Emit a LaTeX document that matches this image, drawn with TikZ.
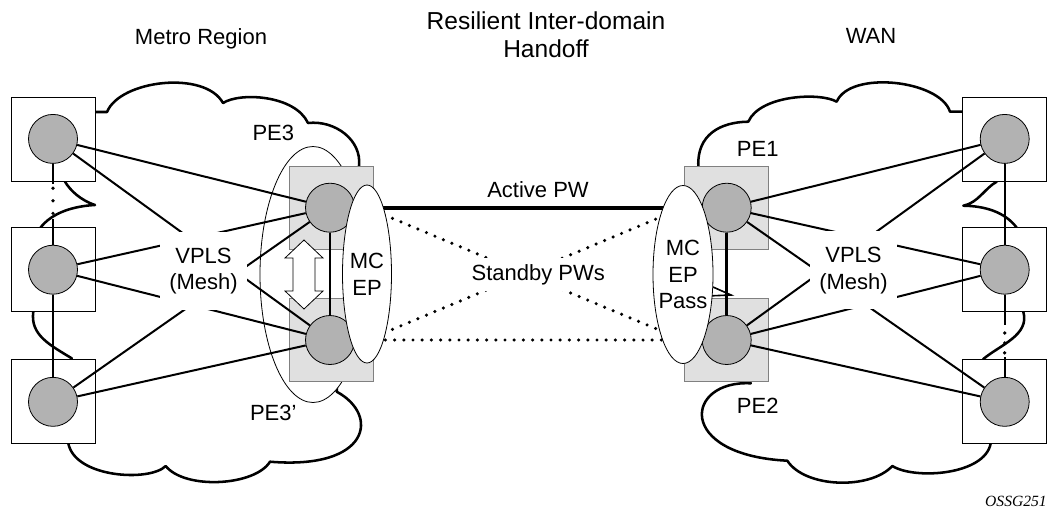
\documentclass[tikz,border=0pt]{standalone}
\usepackage{fontspec}
\setmainfont{Liberation Sans}
\newfontfamily\tagfont{Liberation Serif}
\usetikzlibrary{positioning, shapes.geometric}
\newcommand{\lblfont}{\fontsize{16.5pt}{20pt}\selectfont}
\tikzset{
	site/.style={draw, line width=0.6pt, fill=white, minimum size=63pt, inner sep=0pt},
	host/.style={circle, draw, line width=0.6pt, fill=black!30, minimum size=36.75pt, inner sep=0pt},
	pebox/.style={draw=black!50, line width=0.6pt, fill=black!12, minimum width=63pt, minimum height=62.5pt, inner sep=0pt},
	mcep/.style={ellipse, draw, line width=0.6pt, fill=white, minimum height=133.5pt, inner sep=0pt, align=center},
	meshlabel/.style={fill=white, minimum width=65.25pt, minimum height=58.5pt, inner sep=0pt, align=center},
	cloudline/.style={line width=1.9pt, fill=white, line join=round},
	mesh/.style={line width=1.5pt},
	vdots/.style={line width=2.8pt, line cap=round, dash pattern=on 0pt off 9.4pt},
	activepw/.style={line width=3pt},
	standbypw/.style={line width=2.6pt, line cap=round, dash pattern=on 0pt off 6.9pt}
}

\begin{document}
\begin{tikzpicture}[x=0.75pt, y=-0.75pt, font=\lblfont]
	\useasboundingbox (0,0) rectangle (1049,508);

	% clouds
	\draw[cloudline] (95,112) -- (107,112)
		.. controls (120,80) and (205,70) .. (223,103)
		.. controls (240,92) and (295,95) .. (308,123)
		.. controls (335,120) and (362,140) .. (359,166)
		-- (340,300) -- (336.7,391.7)
		.. controls (380,415) and (370,470) .. (270,461.7)
		.. controls (255,486) and (185,490) .. (165.7,466)
		.. controls (150,482) and (75,478) .. (68.3,443.3)
		-- (71.7,358.3)
		.. controls (50,345) and (30,335) .. (33.3,311.7)
		-- (40,228.3)
		.. controls (52,212) and (75,206) .. (95,205)
		.. controls (80,200) and (70,190) .. (65,181.7)
		-- cycle;
	\draw[cloudline] (962.7,111.7) -- (950,111.7)
		.. controls (940,80) and (850,70) .. (836.7,101.7)
		.. controls (820,92) and (760,95) .. (748.3,121.7)
		.. controls (720,122) and (697,135) .. (698.3,166)
		-- (703,300) -- (750.7,383.3)
		.. controls (685,380) and (675,455) .. (787.3,460.7)
		.. controls (805,488) and (870,490) .. (892.3,466)
		.. controls (915,480) and (985,475) .. (990.7,443.3)
		-- (983.3,359)
		.. controls (1000,345) and (1030,335) .. (1023.3,311.7)
		-- (1016.7,227.7)
		.. controls (1005,212) and (985,206) .. (963.3,205.7)
		.. controls (978,203) and (985,188) .. (996.7,181.7)
		-- cycle;

	% access sites
	\node[site] (MLbox) at (53,269.7) {};
	\node[site, above=34.5pt of MLbox] (TLbox) {};
	\node[site, below=35.5pt of MLbox] (BLbox) {};
	\node[site] (MRbox) at (1004.7,269.7) {};
	\node[site, above=34.5pt of MRbox] (TRbox) {};
	\node[site, below=35.5pt of MRbox] (BRbox) {};

	% PE pairs
	\node[ellipse, draw, line width=0.6pt, fill=white, minimum width=79.5pt, minimum height=192pt] (PE3ring) at (313,274.5) {};
	\node[pebox] (PE3box) at (331,207.7) {};
	\node[pebox] (PE3pbox) at (331,340) {};
	\node[pebox] (PE1box) at (726.7,207.7) {};
	\node[pebox] (PE2box) at (726.7,340) {};
	\draw[line width=0.6pt, fill=white] (304,240) -- (323,258) -- (315,258) -- (315,291) -- (323,291)
		-- (304,309) -- (285,291) -- (293,291) -- (293,258) -- (285,258) -- cycle;

	\node[host] (TL) at (TLbox) {};
	\node[host] (ML) at (MLbox) {};
	\node[host] (BL) at (BLbox) {};
	\node[host] (TR) at (TRbox) {};
	\node[host] (MR) at (MRbox) {};
	\node[host] (BR) at (BRbox) {};
	\node[host] (PE3) at (330,207.7) {};
	\node[host] (PE3p) at (330,340) {};
	\node[host] (PE1) at (726.7,207.7) {};
	\node[host] (PE2) at (726.7,340) {};

	% VPLS mesh
	\draw[mesh]
		(TL) edge (PE3) (TL) edge (PE3p)
		(ML) edge (PE3) (ML) edge (PE3p)
		(BL) edge (PE3) (BL) edge (PE3p)
		(TR) edge (PE1) (TR) edge (PE2)
		(MR) edge (PE1) (MR) edge (PE2)
		(BR) edge (PE1) (BR) edge (PE2);
	\node[meshlabel] (vplsL) at (203.5,271) {VPLS\\(Mesh)};
	\node[meshlabel] (vplsR) at (853.5,270.4) {VPLS\\(Mesh)};

	\draw[mesh] (TL) -- (TL |- 0,184);
	\draw[vdots] (TL |- 0,188.3) -- (TL |- 0,213.6);
	\draw[mesh] (ML |- 0,219) -- (ML);
	\draw[mesh] (ML) -- (BL);
	\draw[mesh] (TR) -- (MR);
	\draw[mesh] (MR) -- (MR |- 0,325);
	\draw[vdots, dash pattern=on 0pt off 7.45pt] (MR |- 0,333) -- (MR |- 0,353.1);
	\draw[mesh] (BR |- 0,357) -- (BR);
	\draw[line width=2pt] (PE3) -- (PE3p);
	\draw[line width=2pt] (PE1) -- (PE2);

	% pseudowires
	\coordinate (mcL) at (367,274);
	\coordinate (mcR) at (683,274.5);
	\draw[activepw] (mcL |- PE3) -- (mcR |- PE1);
	\draw[standbypw] (mcL |- PE3) -- (mcR |- PE2) (mcL |- PE3p) -- (mcR |- PE1) (mcL |- PE3p) -- (mcR |- PE2);
	\draw[line width=1.2pt] (mcR |- 0,297) -- (731,295) -- (713,287);
	\node[mcep, minimum width=36.75pt] (MCEPL) at (mcL) {MC\\EP};
	\node[mcep, minimum width=45pt] (MCEPR) at (mcR) {\makebox[0pt]{MC}\\\makebox[0pt]{EP}\\\makebox[0pt]{Pass}};

	% labels
	\node[anchor=base] (actlbl) at (538,197.3) {Active PW};
	\node[anchor=base, fill=white, inner sep=4.5pt] (sbylbl) at (538.3,280) {Standby PWs};
	\node[anchor=base] (PE3lbl) at (273.3,140.6) {PE3};
	\node[anchor=base] (PE3plbl) at (273.3,420) {PE3'};
	\node[anchor=base] (PE1lbl) at (757.7,156.7) {PE1};
	\node[anchor=base] (PE2lbl) at (757.7,413.3) {PE2};
	\node[anchor=base] (metro) at (201,44) {Metro Region};
	\node[anchor=base] (wan) at (871,43.3) {WAN};
	\node[align=center, inner sep=0pt, font=\fontsize{18.4pt}{21pt}\selectfont] (title) at (546,34.5) {Resilient Inter-domain\\Handoff};
	\node[anchor=base east, inner sep=0pt, font=\tagfont\itshape\fontsize{11.7pt}{14pt}\selectfont] (tag) at (1047,506) {OSSG251};
\end{tikzpicture}
\end{document}
